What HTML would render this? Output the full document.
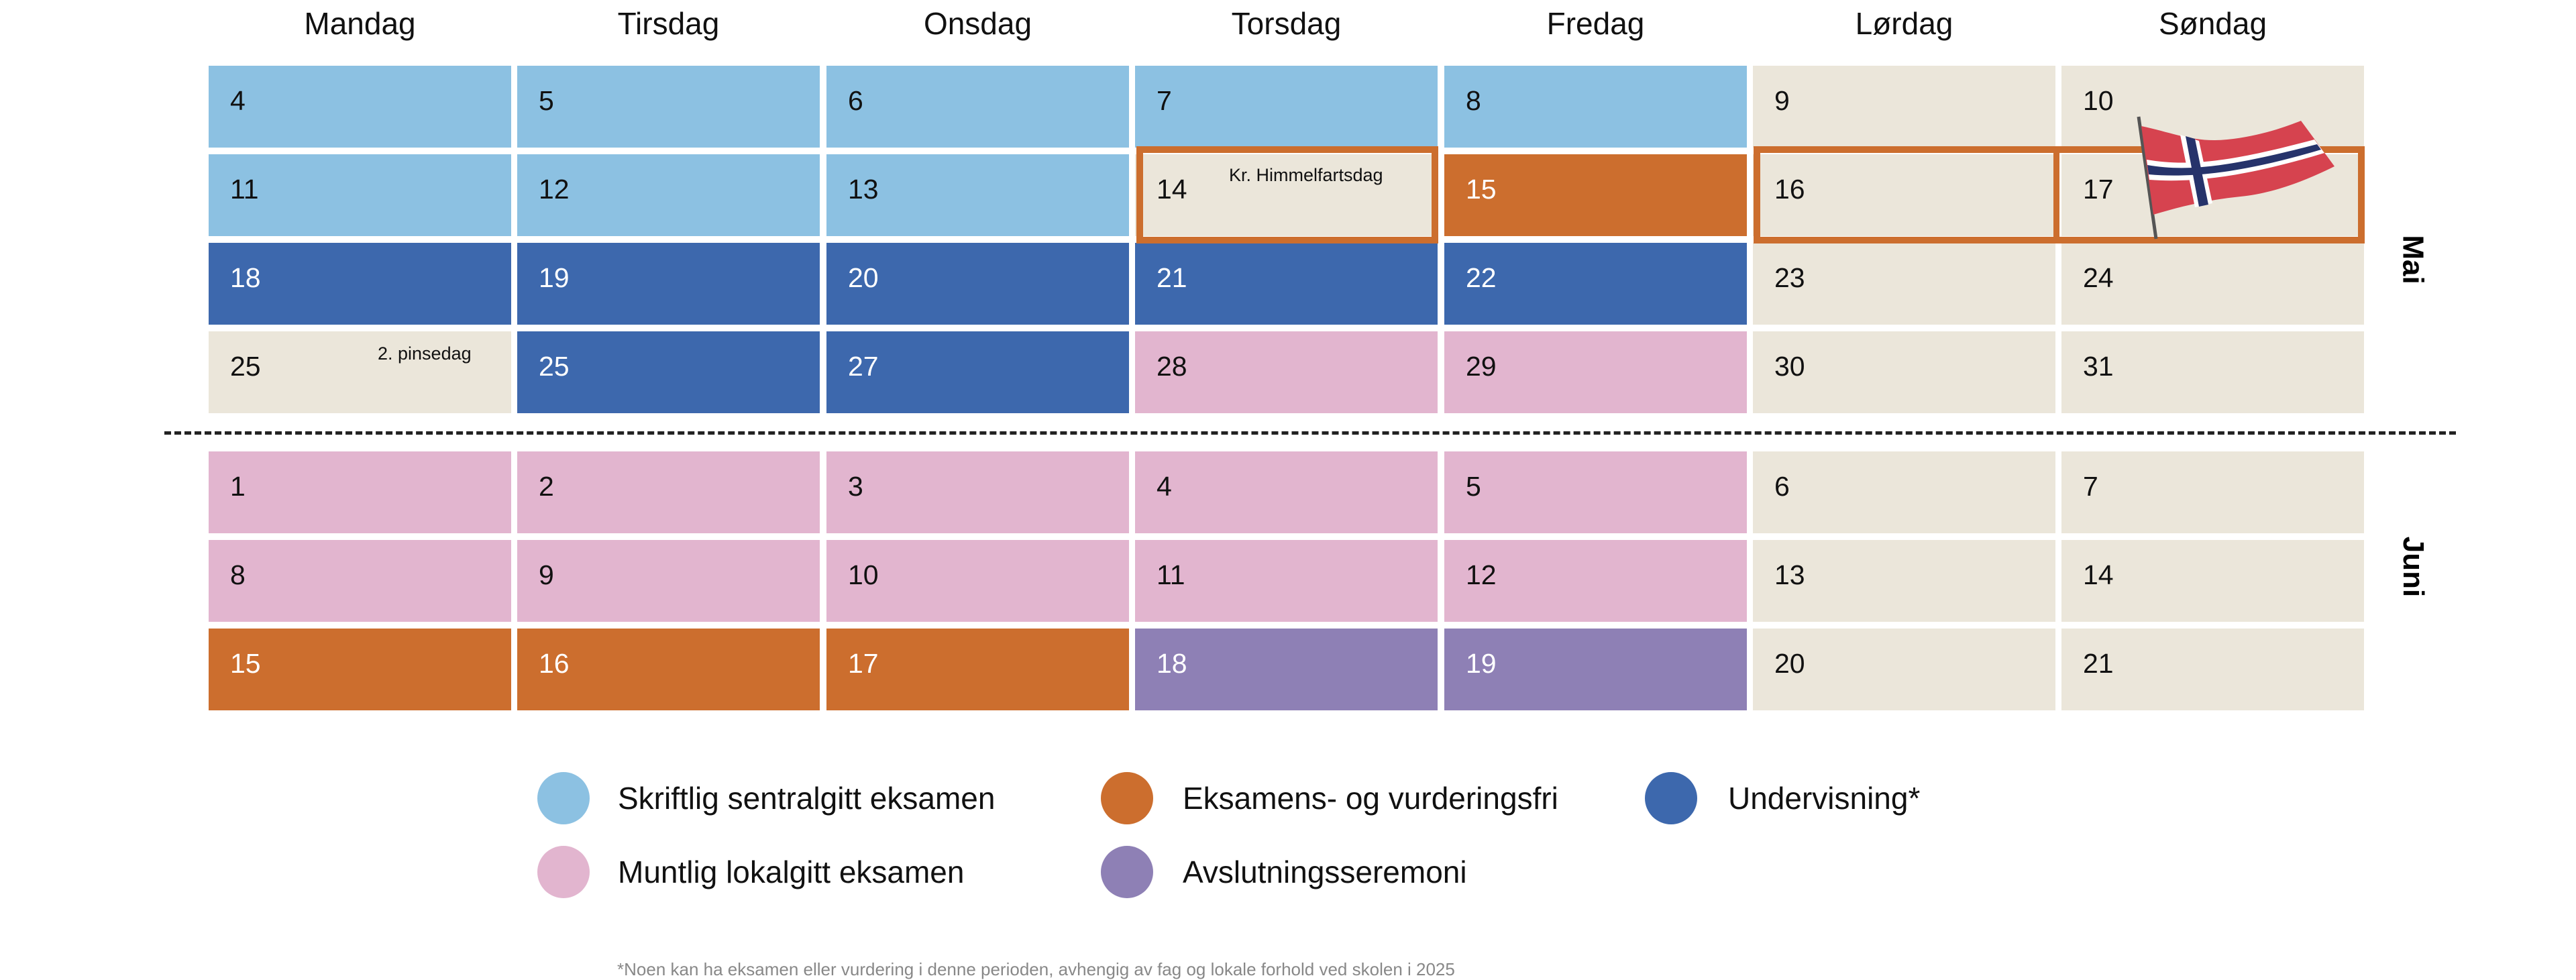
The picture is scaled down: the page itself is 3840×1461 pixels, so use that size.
<!DOCTYPE html>
<html><head><meta charset="utf-8"><style>
body{margin:0;width:3840px;height:1440px;background:#fff;position:relative;overflow:hidden;font-family:"Liberation Sans",sans-serif;}
.c{position:absolute;width:451px;height:122px;box-sizing:border-box;padding-left:32px;line-height:104px;font-size:41px;color:#111;}
.lb{background:#8cc1e2}.db{background:#3d68ad;color:#fff}.or{background:#cc6e2e;color:#fff}.pk{background:#e2b5cf}.pu{background:#8e80b5;color:#fff}.bg{background:#ebe6da}
.h{position:absolute;top:8px;width:451px;text-align:center;font-size:46px;color:#111;}
.ob{position:absolute;border:10px solid #cc6e2e;box-sizing:border-box;}
.lg{position:absolute;width:78px;height:78px;border-radius:50%;}
.lt{position:absolute;font-size:46px;color:#111;}
.m{position:absolute;font-weight:bold;font-size:44px;transform:rotate(90deg);transform-origin:center;}
</style></head><body>
<div class="h" style="left:311px">Mandag</div>
<div class="h" style="left:771px">Tirsdag</div>
<div class="h" style="left:1232px">Onsdag</div>
<div class="h" style="left:1692px">Torsdag</div>
<div class="h" style="left:2153px">Fredag</div>
<div class="h" style="left:2613px">Lørdag</div>
<div class="h" style="left:3073px">Søndag</div>

<div class="c lb" style="left:311px;top:98px">4</div>
<div class="c lb" style="left:771px;top:98px">5</div>
<div class="c lb" style="left:1232px;top:98px">6</div>
<div class="c lb" style="left:1692px;top:98px">7</div>
<div class="c lb" style="left:2153px;top:98px">8</div>
<div class="c bg" style="left:2613px;top:98px">9</div>
<div class="c bg" style="left:3073px;top:98px">10</div>

<div class="c lb" style="left:311px;top:230px">11</div>
<div class="c lb" style="left:771px;top:230px">12</div>
<div class="c lb" style="left:1232px;top:230px">13</div>
<div class="c bg" style="left:1692px;top:230px">14</div>
<div class="c or" style="left:2153px;top:230px">15</div>
<div class="c bg" style="left:2613px;top:230px">16</div>
<div class="c bg" style="left:3073px;top:230px">17</div>

<div class="c db" style="left:311px;top:362px">18</div>
<div class="c db" style="left:771px;top:362px">19</div>
<div class="c db" style="left:1232px;top:362px">20</div>
<div class="c db" style="left:1692px;top:362px">21</div>
<div class="c db" style="left:2153px;top:362px">22</div>
<div class="c bg" style="left:2613px;top:362px">23</div>
<div class="c bg" style="left:3073px;top:362px">24</div>

<div class="c bg" style="left:311px;top:494px">25</div>
<div class="c db" style="left:771px;top:494px">25</div>
<div class="c db" style="left:1232px;top:494px">27</div>
<div class="c pk" style="left:1692px;top:494px">28</div>
<div class="c pk" style="left:2153px;top:494px">29</div>
<div class="c bg" style="left:2613px;top:494px">30</div>
<div class="c bg" style="left:3073px;top:494px">31</div>

<div class="c pk" style="left:311px;top:673px">1</div>
<div class="c pk" style="left:771px;top:673px">2</div>
<div class="c pk" style="left:1232px;top:673px">3</div>
<div class="c pk" style="left:1692px;top:673px">4</div>
<div class="c pk" style="left:2153px;top:673px">5</div>
<div class="c bg" style="left:2613px;top:673px">6</div>
<div class="c bg" style="left:3073px;top:673px">7</div>

<div class="c pk" style="left:311px;top:805px">8</div>
<div class="c pk" style="left:771px;top:805px">9</div>
<div class="c pk" style="left:1232px;top:805px">10</div>
<div class="c pk" style="left:1692px;top:805px">11</div>
<div class="c pk" style="left:2153px;top:805px">12</div>
<div class="c bg" style="left:2613px;top:805px">13</div>
<div class="c bg" style="left:3073px;top:805px">14</div>

<div class="c or" style="left:311px;top:937px">15</div>
<div class="c or" style="left:771px;top:937px">16</div>
<div class="c or" style="left:1232px;top:937px">17</div>
<div class="c pu" style="left:1692px;top:937px">18</div>
<div class="c pu" style="left:2153px;top:937px">19</div>
<div class="c bg" style="left:2613px;top:937px">20</div>
<div class="c bg" style="left:3073px;top:937px">21</div>

<div style="position:absolute;left:1832px;top:246px;font-size:27px;color:#111">Kr. Himmelfartsdag</div>
<div style="position:absolute;left:563px;top:512px;font-size:27px;color:#111">2. pinsedag</div>

<div class="ob" style="left:1694px;top:218px;width:450px;height:145px"></div>
<div class="ob" style="left:2614px;top:218px;width:911px;height:145px"></div>
<div style="position:absolute;left:3061px;top:218px;width:9px;height:145px;background:#cc6e2e"></div>

<svg style="position:absolute;left:3180px;top:168px" width="320" height="195" viewBox="0 0 320 195">
<line x1="8" y1="6" x2="34" y2="188" stroke="#555" stroke-width="5"/>
<path d="M12 20 C60 30 90 45 140 40 C190 35 230 20 250 12 L300 80 C260 100 210 120 160 125 C110 130 70 140 30 152 Z" fill="#d6434f"/>
<path d="M70 33 L98 42 L118 135 L92 141 Z" fill="#fff"/>
<path d="M20 70 C80 80 140 75 270 40 L285 60 C170 95 90 105 24 100 Z" fill="#fff"/>
<path d="M78 35 L92 39 L112 137 L98 140 Z" fill="#26336b"/>
<path d="M21 78 C80 88 140 82 274 47 L280 55 C170 88 90 98 23 92 Z" fill="#26336b"/>
</svg>

<div style="position:absolute;left:245px;top:643px;width:3416px;border-top:5px dashed #222"></div>

<div class="m" style="left:3560px;top:362px;">Mai</div>
<div class="m" style="left:3552px;top:820px;">Juni</div>

<div class="lg" style="left:801px;top:1151px;background:#8cc1e2"></div>
<div class="lt" style="left:921px;top:1163px">Skriftlig sentralgitt eksamen</div>
<div class="lg" style="left:1641px;top:1151px;background:#cc6e2e"></div>
<div class="lt" style="left:1763px;top:1163px">Eksamens- og vurderingsfri</div>
<div class="lg" style="left:2452px;top:1151px;background:#3d68ad"></div>
<div class="lt" style="left:2576px;top:1163px">Undervisning*</div>
<div class="lg" style="left:801px;top:1261px;background:#e2b5cf"></div>
<div class="lt" style="left:921px;top:1273px">Muntlig lokalgitt eksamen</div>
<div class="lg" style="left:1641px;top:1261px;background:#8e80b5"></div>
<div class="lt" style="left:1763px;top:1273px">Avslutningsseremoni</div>
<div style="position:absolute;left:920px;top:1430px;font-size:26px;color:#888;white-space:nowrap">*Noen kan ha eksamen eller vurdering i denne perioden, avhengig av fag og lokale forhold ved skolen i 2025</div>
</body></html>
